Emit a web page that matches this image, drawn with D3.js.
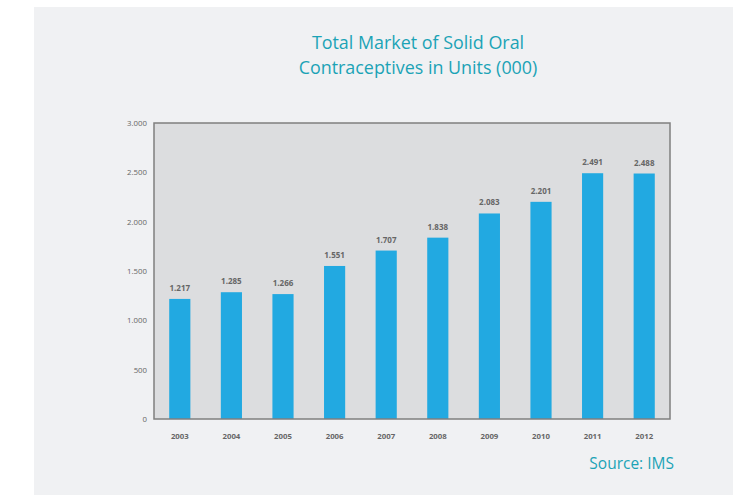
<!DOCTYPE html>
<html>
<head>
<meta charset="utf-8">
<script src="https://cdn.jsdelivr.net/npm/d3@7"></script>
<style>
  html, body { margin: 0; padding: 0; background: #ffffff; }
  svg { display: block; }
</style>
</head>
<body>
<svg id="chart" width="733" height="495"></svg>
<script>
// Units sold (thousands) per year
const years = ["2003", "2004", "2005", "2006", "2007", "2008", "2009", "2010", "2011", "2012"];
const units = [1217, 1285, 1266, 1551, 1707, 1838, 2083, 2201, 2491, 2488];
const yTicks = [0, 500, 1000, 1500, 2000, 2500, 3000];
const titleLines = ["Total Market of Solid Oral", "Contraceptives in Units (000)"];
const sourceText = "Source: IMS";

const svg = d3.select("#chart");
const fmt = v => v === 0 ? "0" : d3.format(",")(v).replace(/,/g, ".");

// page panel
svg.append("rect").attr("x", 34).attr("y", 7).attr("width", 699).attr("height", 488)
  .attr("fill", "#f0f1f3");

// title
svg.append("g").selectAll("text").data(titleLines).join("text")
  .attr("x", 418).attr("y", (d, i) => 49 + i * 25)
  .attr("text-anchor", "middle")
  .attr("font-family", "'Open Sans', sans-serif")
  .attr("font-size", 17.9)
  .attr("fill", "#1ba3b6")
  .text(d => d);

const plot = { left: 154, top: 123, right: 670, bottom: 419 };

const x = d3.scaleBand().domain(years).range([plot.left, plot.right]).paddingInner(0.59).paddingOuter(0.295);
const y = d3.scaleLinear().domain([0, 3000]).range([plot.bottom, plot.top]);

// plot background
svg.append("rect").attr("x", plot.left).attr("y", plot.top)
  .attr("width", plot.right - plot.left).attr("height", plot.bottom - plot.top)
  .attr("fill", "#dcdddf");

// bars
svg.append("g").selectAll("rect").data(years).join("rect")
  .attr("x", d => x(d))
  .attr("y", (d, i) => y(units[i]))
  .attr("width", x.bandwidth())
  .attr("height", (d, i) => y(0) - y(units[i]))
  .attr("fill", "#22a9e1");

// value labels
svg.append("g").selectAll("text").data(years).join("text")
  .attr("x", d => x(d) + x.bandwidth() / 2)
  .attr("y", (d, i) => y(units[i]) - 8)
  .attr("text-anchor", "middle")
  .attr("font-family", "'Open Sans', sans-serif")
  .attr("font-weight", "bold")
  .attr("font-size", 8)
  .attr("fill", "#666666")
  .text((d, i) => fmt(units[i]));

// plot frame
svg.append("rect").attr("x", plot.left).attr("y", plot.top)
  .attr("width", plot.right - plot.left).attr("height", plot.bottom - plot.top)
  .attr("fill", "none").attr("stroke", "#7f7f7f").attr("stroke-width", 1.5);

// y axis
const yAxis = svg.append("g").attr("transform", `translate(${plot.left},0)`)
  .call(d3.axisLeft(y).tickValues(yTicks).tickFormat(fmt).tickSize(0).tickPadding(7));
yAxis.select(".domain").remove();
yAxis.selectAll("text")
  .attr("font-family", "'Open Sans', sans-serif")
  .attr("font-size", 7.8)
  .attr("fill", "#666666");

// x axis
const xAxis = svg.append("g").attr("transform", `translate(0,${plot.bottom})`)
  .call(d3.axisBottom(x).tickSize(0).tickPadding(14));
xAxis.select(".domain").remove();
xAxis.selectAll("text")
  .attr("font-family", "'Open Sans', sans-serif")
  .attr("font-weight", "bold")
  .attr("font-size", 7.8)
  .attr("fill", "#666666");

// source
svg.append("text")
  .attr("x", 674).attr("y", 469)
  .attr("text-anchor", "end")
  .attr("font-family", "'Open Sans', sans-serif")
  .attr("font-size", 15.5)
  .attr("fill", "#1ba3b6")
  .text(sourceText);
</script>
</body>
</html>
